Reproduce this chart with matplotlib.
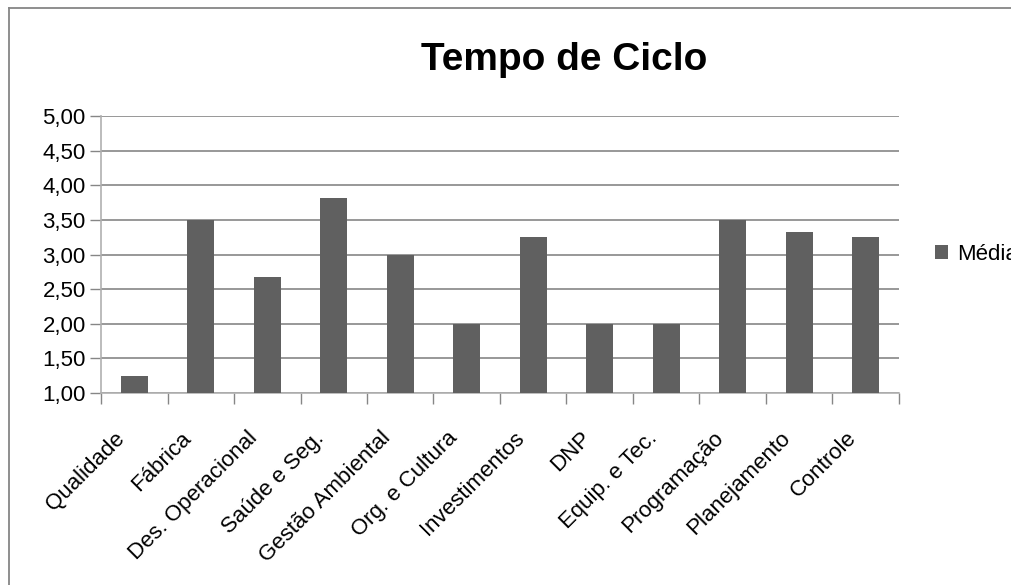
import matplotlib
matplotlib.use("Agg")
import matplotlib.pyplot as plt
from matplotlib.lines import Line2D

# dados do gráfico
categorias = ["Qualidade", "Fábrica", "Des. Operacional", "Saúde e Seg.",
              "Gestão Ambiental", "Org. e Cultura", "Investimentos", "DNP",
              "Equip. e Tec.", "Programação", "Planejamento", "Controle"]
medias = [1.24, 3.50, 2.67, 3.82, 3.00, 2.00, 3.25, 2.00, 2.00, 3.50, 3.33, 3.25]
y_ticks = [1.0, 1.5, 2.0, 2.5, 3.0, 3.5, 4.0, 4.5, 5.0]
titulo = "Tempo de Ciclo"
serie = "Média"

plt.rcParams['font.family'] = ['Liberation Sans', 'DejaVu Sans']

fig = plt.figure(figsize=(10.12, 5.85), dpi=100)

# moldura da área do gráfico (só borda de cima e da esquerda aparecem)
fig.add_artist(Line2D([9 / 1012, 1.0], [1 - 8 / 585, 1 - 8 / 585],
                      transform=fig.transFigure, color="#868686", linewidth=1.3))
fig.add_artist(Line2D([9 / 1012, 9 / 1012], [0.0, 1 - 8 / 585],
                      transform=fig.transFigure, color="#868686", linewidth=1.3))

ax = fig.add_axes([101 / 1012, 1 - 393 / 585, 798 / 1012, 277 / 585])

x = list(range(len(categorias)))
ax.bar(x, [m - 1.0 for m in medias], bottom=1.0, width=0.41, color="#606060",
       label=serie, zorder=3)

ax.set_xlim(-0.5, len(categorias) - 0.5)
ax.set_ylim(1.0, 5.0)
ax.set_yticks(y_ticks)
ax.set_yticklabels([f"{v:.2f}".replace(".", ",") for v in y_ticks], fontsize=16)
ax.yaxis.grid(True, color="#868686", linewidth=1.2, zorder=0)

# ticks do eixo x nos limites das categorias; rótulos um pouco à esquerda do centro
ax.set_xticks([i - 0.5 for i in range(len(categorias) + 1)], minor=False)
ax.set_xticklabels([])
ax.set_xticks([i - 0.3 for i in x], minor=True)
ax.set_xticklabels(categorias, minor=True, rotation=45, ha="right", va="top",
                   rotation_mode="anchor", fontsize=16)
ax.tick_params(axis="x", which="major", length=8, color="#868686", width=1)
ax.tick_params(axis="x", which="minor", length=0, pad=25)
ax.tick_params(axis="y", length=8, color="#868686", width=1, pad=3)

for s in ["top", "right"]:
    ax.spines[s].set_visible(False)
ax.spines["left"].set_color("#b0b0b0")
ax.spines["left"].set_linewidth(1.2)
ax.spines["bottom"].set_color("#b0b0b0")
ax.spines["bottom"].set_linewidth(1.2)

fig.text(564 / 1012, 1 - 60 / 585, titulo, ha="center", va="center",
         fontsize=28, fontweight="bold")

ax.legend(loc="center left", bbox_to_anchor=(1.02, 0.5), frameon=False,
          fontsize=16, handlelength=0.6, handleheight=0.6, handletextpad=0.4)

fig.savefig("out.png", dpi=100)
